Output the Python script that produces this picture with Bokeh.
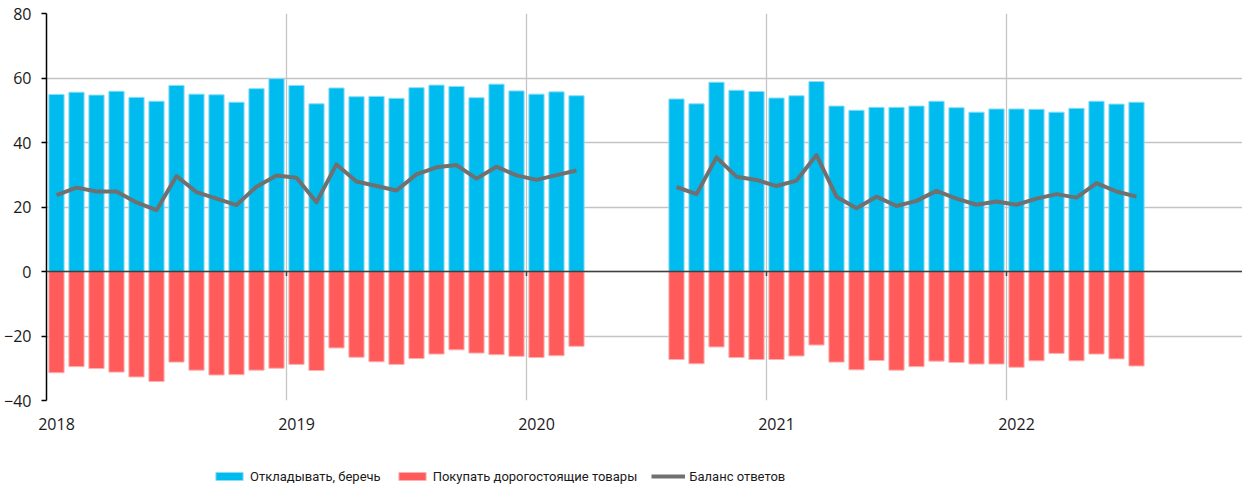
import pandas as pd
from bokeh.plotting import figure
from bokeh.layouts import column
from bokeh.models import ColumnDataSource, FixedTicker, Span, Legend, LegendItem, Range1d
from bokeh.embed import file_html
from bokeh.resources import INLINE

# ---- data ----
period1 = pd.period_range("2018-01", "2020-03", freq="M")
period2 = pd.period_range("2020-08", "2022-07", freq="M")

save1 = [54.9, 55.6, 54.7, 55.9, 54.0, 52.8, 57.7, 55.0, 54.8, 52.5, 56.7, 59.8,
         57.7, 52.0, 56.9, 54.2, 54.3, 53.7, 57.0, 57.8, 57.4, 53.9, 58.1, 56.0,
         55.0, 55.7, 54.5]
buy1 = [-31.4, -29.5, -30.1, -31.2, -32.7, -34.1, -28.1, -30.6, -32.1, -32.0, -30.6, -30.0,
        -28.8, -30.7, -23.7, -26.6, -28.0, -28.8, -27.0, -25.6, -24.3, -25.3, -25.8, -26.3,
        -26.7, -26.1, -23.2]
bal1 = [23.7, 26.0, 24.8, 24.8, 21.4, 19.0, 29.6, 24.6, 22.6, 20.6, 26.3, 29.8,
        29.1, 21.5, 33.2, 27.9, 26.5, 25.1, 30.1, 32.3, 33.0, 28.8, 32.5, 29.8,
        28.4, 29.9, 31.3]

save2 = [53.5, 52.0, 58.7, 56.2, 55.8,
         53.8, 54.5, 58.9, 51.3, 50.0, 50.9, 50.9, 51.3, 52.8, 50.8, 49.4, 50.4,
         50.4, 50.3, 49.4, 50.6, 52.8, 51.9, 52.5]
buy2 = [-27.3, -28.6, -23.4, -26.7, -27.3,
        -27.3, -26.2, -22.8, -28.1, -30.5, -27.6, -30.6, -29.5, -27.8, -28.2, -28.7, -28.7,
        -29.7, -27.7, -25.4, -27.7, -25.6, -27.1, -29.3]
bal2 = [26.2, 24.0, 35.4, 29.4, 28.4,
        26.5, 28.2, 36.1, 23.2, 19.6, 23.2, 20.3, 21.9, 25.0, 22.6, 20.7, 21.7,
        20.7, 22.6, 24.0, 22.9, 27.4, 24.8, 23.2]

years = [2018, 2019, 2020, 2021, 2022]
y_ticks = [-40, -20, 0, 20, 40, 60, 80]
series_names = ["Откладывать, беречь", "Покупать дорогостоящие товары", "Баланс ответов"]

BASE = 2018
def midx(periods):
    return [(p.year - BASE) * 12 + p.month - 1 for p in periods]

x1 = midx(period1)
x2 = midx(period2)

src1 = ColumnDataSource(dict(x=x1, save=save1, buy=buy1, bal=bal1))
src2 = ColumnDataSource(dict(x=x2, save=save2, buy=buy2, bal=bal2))

BLUE = "#00BBEE"
RED = "#FF5B5B"
GRAY = "#707070"
GRID = "#C4C4C4"
BLUE_EDGE = "#8ADDF7"
RED_EDGE = "#FFB0B0"

p = figure(frame_width=1196, frame_height=387,
           min_border_left=46, min_border_right=0, min_border_top=13, min_border_bottom=40,
           x_range=Range1d(-0.5, 59.3), y_range=Range1d(-40, 80),
           output_backend="svg", toolbar_location=None)
p.outline_line_color = None
p.background_fill_color = "white"

# grids
p.ygrid.ticker = FixedTicker(ticks=y_ticks)
p.ygrid.grid_line_color = GRID
p.ygrid.grid_line_width = 1.3
bounds = [(y - BASE) * 12 - 0.5 for y in years[1:]]
p.xgrid.ticker = FixedTicker(ticks=bounds)
p.xgrid.grid_line_color = GRID
p.xgrid.grid_line_width = 1.3

# y axis
p.yaxis.ticker = FixedTicker(ticks=y_ticks)
p.yaxis.axis_line_color = "black"
p.yaxis.axis_line_width = 1.5
p.yaxis.major_tick_line_color = "black"
p.yaxis.major_tick_line_width = 1.5
p.yaxis.major_tick_out = 5
p.yaxis.major_tick_in = 0
p.yaxis.minor_tick_line_color = None
p.yaxis.major_label_standoff = 10
p.yaxis.major_label_text_font = "Open Sans"
p.yaxis.major_label_text_font_size = "16px"
p.yaxis.major_label_text_color = "#1a1a1a"

# x axis
year_pos = [(y - BASE) * 12 for y in years]
p.xaxis.ticker = FixedTicker(ticks=year_pos)
p.xaxis.major_label_overrides = {pos: str(y) for pos, y in zip(year_pos, years)}
p.xaxis.axis_line_color = None
p.xaxis.major_tick_line_color = None
p.xaxis.minor_tick_line_color = None
p.xaxis.major_label_standoff = 11
p.xaxis.major_label_text_font = "Open Sans"
p.xaxis.major_label_text_font_size = "16px"
p.xaxis.major_label_text_color = "#1a1a1a"

# bars
for src in (src1, src2):
    p.vbar(x="x", top="save", bottom=0, width=0.76, source=src,
           fill_color=BLUE, line_color=BLUE_EDGE, line_width=1)
    p.vbar(x="x", top=0, bottom="buy", width=0.76, source=src,
           fill_color=RED, line_color=RED_EDGE, line_width=1)

zero = Span(location=0, dimension="width", line_color="#404040", line_width=1.5)
p.add_layout(zero)
p.segment(x0=bounds, y0=[0] * len(bounds), x1=bounds, y1=[-1.4] * len(bounds),
          line_color="#404040", line_width=1.5)

for src in (src1, src2):
    p.line(x="x", y="bal", source=src, line_color=GRAY, line_width=4, line_join="round")

# ---- legend strip under the chart ----
# proxy renderers carry the first observation, kept outside the strip's visible range
leg_fig = figure(width=1242, height=48, x_range=Range1d(1000, 1001), y_range=Range1d(1000, 1001),
                 x_axis_type=None, y_axis_type=None, output_backend="svg",
                 toolbar_location=None, min_border=0)
leg_fig.outline_line_color = None
leg_fig.grid.visible = False
proxy = ColumnDataSource(dict(x=[x1[0]], save=[save1[0]], buy=[buy1[0]], bal=[bal1[0]]))
r_save = leg_fig.vbar(x="x", top="save", width=0.76, source=proxy,
                      fill_color=BLUE, line_color=BLUE_EDGE, line_width=1)
r_buy = leg_fig.vbar(x="x", top=0, bottom="buy", width=0.76, source=proxy,
                     fill_color=RED, line_color=RED_EDGE, line_width=1)
r_bal = leg_fig.line(x="x", y="bal", source=proxy, line_color=GRAY, line_width=4)

items = [LegendItem(label=name, renderers=[r])
         for name, r in zip(series_names, [r_save, r_buy, r_bal])]
leg = Legend(items=items, location=(166, 4), orientation="horizontal",
             glyph_width=34, glyph_height=10, label_standoff=4,
             label_height=16, padding=0, margin=0, spacing=14,
             border_line_color=None, background_fill_alpha=0,
             label_text_font="Roboto", label_text_font_size="13px",
             label_text_color="#1a1a1a")
leg_fig.add_layout(leg)

layout = column(p, leg_fig, spacing=0)
open("out.html", "w").write(file_html(layout, INLINE))
